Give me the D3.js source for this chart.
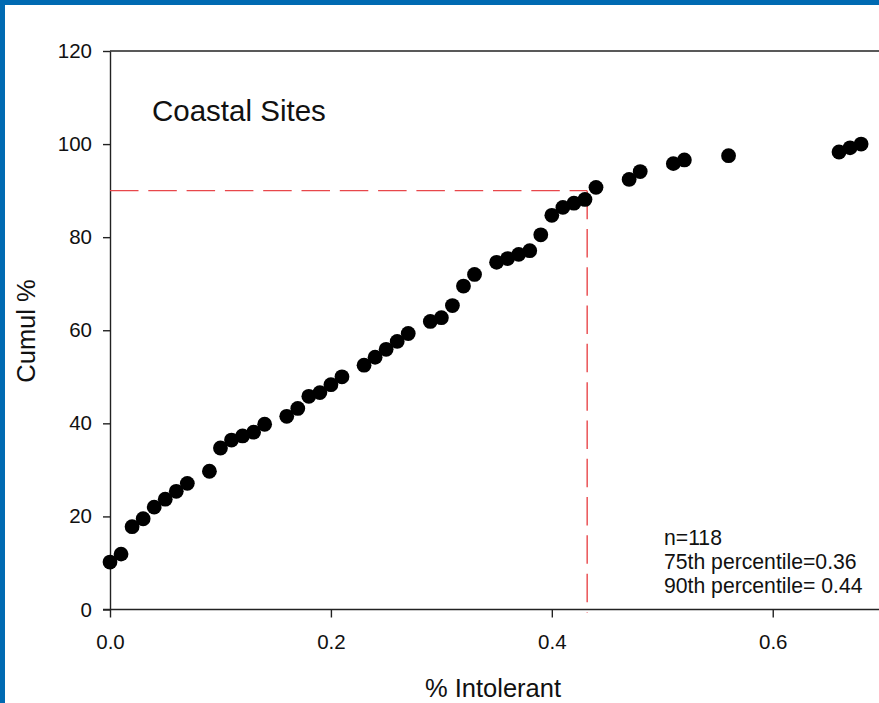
<!DOCTYPE html>
<html>
<head>
<meta charset="utf-8">
<script src="https://cdn.jsdelivr.net/npm/d3@7"></script>
<style>
  html, body { margin: 0; padding: 0; background: #fff; }
  svg { display: block; }
  text { font-family: "Liberation Sans", Arial, Helvetica, sans-serif; fill: #111; }
</style>
</head>
<body>
<svg id="chart" width="879" height="703"></svg>
<script>
// ---- data ----
const pctIntolerant = [0.00, 0.01, 0.02, 0.03, 0.04, 0.05, 0.06, 0.07, 0.09, 0.10,
  0.11, 0.12, 0.13, 0.14, 0.16, 0.17, 0.18, 0.19, 0.20, 0.21,
  0.23, 0.24, 0.25, 0.26, 0.27, 0.29, 0.30, 0.31, 0.32, 0.33,
  0.35, 0.36, 0.37, 0.38, 0.39, 0.40, 0.41, 0.42, 0.43, 0.44,
  0.47, 0.48, 0.51, 0.52, 0.56, 0.66, 0.67, 0.68];
const cumulPct = [10.2, 11.9, 17.8, 19.5, 22.0, 23.7, 25.4, 27.1, 29.7, 34.7,
  36.4, 37.3, 38.1, 39.8, 41.5, 43.2, 45.8, 46.6, 48.3, 50.0,
  52.5, 54.2, 55.9, 57.6, 59.3, 61.9, 62.7, 65.3, 69.5, 72.0,
  74.6, 75.4, 76.3, 77.1, 80.5, 84.7, 86.4, 87.3, 88.1, 90.7,
  92.4, 94.1, 95.8, 96.6, 97.5, 98.3, 99.2, 100.0];
const xTicks = [0.0, 0.2, 0.4, 0.6];
const yTicks = [0, 20, 40, 60, 80, 100, 120];
const refX = 0.432;   // 90th percentile line position
const refY = 90;
const title = "Coastal Sites";
const notes = ["n=118", "75th percentile=0.36", "90th percentile= 0.44"];

// ---- layout ----
const svg = d3.select("#chart");
const x = d3.scaleLinear().domain([0, 0.7]).range([110, 883.2]);
const y = d3.scaleLinear().domain([0, 120]).range([609.5, 51]);
const axisColor = "#222";

// blue frame
svg.append("rect").attr("x", 0).attr("y", 0).attr("width", 879).attr("height", 5).attr("fill", "#006ab2");
svg.append("rect").attr("x", 0).attr("y", 0).attr("width", 5).attr("height", 703).attr("fill", "#006ab2");

// top frame line
svg.append("line").attr("x1", 110).attr("x2", 879).attr("y1", y(120)).attr("y2", y(120))
  .attr("stroke", axisColor).attr("stroke-width", 1.4);

// y axis
const yAxis = svg.append("g").attr("transform", "translate(110,0)")
  .call(d3.axisLeft(y).tickValues(yTicks).tickFormat(d3.format("d")).tickSize(7).tickSizeOuter(0).tickPadding(11));
// x axis
const xAxis = svg.append("g").attr("transform", `translate(0,${y(0)})`)
  .call(d3.axisBottom(x).tickValues(xTicks).tickFormat(d3.format(".1f")).tickSize(8).tickSizeOuter(0).tickPadding(17));
[yAxis, xAxis].forEach(g => {
  g.attr("font-size", null).attr("font-family", null);
  g.select(".domain").attr("stroke", axisColor).attr("stroke-width", 1.4);
  g.selectAll(".tick line").attr("stroke", axisColor).attr("stroke-width", 1.4);
  g.selectAll(".tick text").style("font-size", "20.5px").style("fill", "#111");
});
xAxis.select(".domain").attr("d", `M${x(0) - 7},0H879`);

// reference dashed lines
const dash = "28.5,9.8";
svg.append("line").attr("x1", x(0)).attr("x2", x(refX)).attr("y1", y(refY)).attr("y2", y(refY))
  .attr("stroke", "#e8474b").attr("stroke-width", 1.4).attr("stroke-dasharray", dash);
svg.append("line").attr("x1", x(refX)).attr("x2", x(refX)).attr("y1", y(refY)).attr("y2", y(0) + 3)
  .attr("stroke", "#e8474b").attr("stroke-width", 1.4).attr("stroke-dasharray", dash);

// points
svg.append("g").selectAll("circle")
  .data(pctIntolerant.map((v, i) => [v, cumulPct[i]]))
  .join("circle")
  .attr("cx", d => x(d[0]))
  .attr("cy", d => y(d[1]))
  .attr("r", 7.4)
  .attr("fill", "#000");

// texts
svg.append("text").attr("x", 152).attr("y", 121).style("font-size", "29.5px").text(title);
svg.append("g").selectAll("text").data(notes).join("text")
  .attr("x", 664).attr("y", (d, i) => 544.5 + i * 24.2)
  .style("font-size", "21.2px").text(d => d);

svg.append("text").attr("x", 493).attr("y", 697).attr("text-anchor", "middle")
  .style("font-size", "25.5px").text("% Intolerant");
svg.append("text").attr("transform", "translate(35,331) rotate(-90)").attr("text-anchor", "middle")
  .style("font-size", "25.5px").text("Cumul %");
</script>
</body>
</html>
